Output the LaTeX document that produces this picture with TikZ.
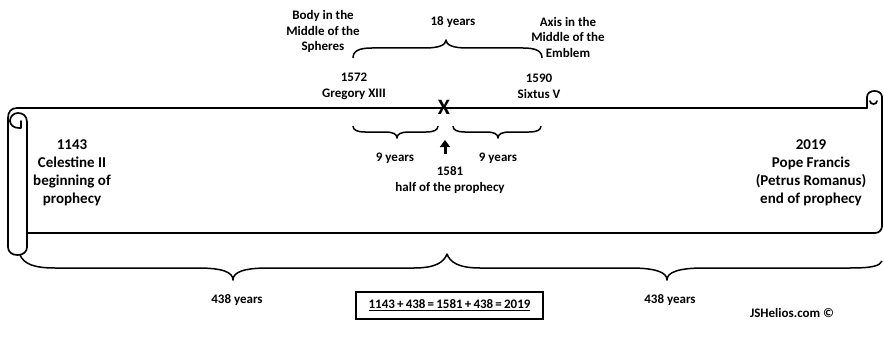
\documentclass[tikz,border=0pt]{standalone}
\usepackage{fontspec}
\setmainfont{Carlito}
\usetikzlibrary{arrows.meta}
\begin{document}
\begin{tikzpicture}[x=1pt,y=-1pt,
  outline/.style={line width=1.7pt, line join=round, line cap=round},
  bracel/.style={line width=1.5pt, line join=round},
  lab/.style={font=\bfseries\fontsize{13}{15.5}\selectfont, align=center, inner sep=0pt},
  big/.style={font=\bfseries\fontsize{15}{18}\selectfont, align=center, inner sep=0pt}]
\useasboundingbox (0,0) rectangle (884,337);
% ---- scroll ----
\draw[outline] (867,108) -- (17,108) .. controls (11,108) and (8,112) .. (8,118)
  -- (8,247) .. controls (8,252) and (12,255) .. (17.5,255) .. controls (23,255) and (27,252) .. (27,247) -- (27,122);
\draw[outline] (27,122) .. controls (27,116) and (23,113) .. (18,113) .. controls (13,113) and (10,117) .. (10,121)
  .. controls (10,125) and (14,128) .. (19,128) -- (21,128) -- (21,121);
\draw[outline] (27,233) -- (875,233) .. controls (879,233) and (882,230) .. (882,226) -- (882,97);
\draw[outline] (867,108) -- (867,97) .. controls (867,89) and (882,89) .. (882,97);
\draw[outline] (870,101) .. controls (870,105) and (877,105) .. (877,101);
% ---- top brace (tip up) ----
\draw[bracel] (353,58) .. controls (353,51) and (359,48) .. (372,48) -- (425,48)
  .. controls (439,48) and (446,45) .. (446,40) .. controls (446,45) and (453,48) .. (467,48)
  -- (523,48) .. controls (536,48) and (542,51) .. (542,58);
% ---- small braces (tip down) ----
\draw[bracel] (353,126) .. controls (353,130) and (357,132) .. (365,132) -- (385,132)
  .. controls (393,132) and (397,134) .. (397,138) .. controls (397,134) and (401,132) .. (409,132)
  -- (426,132) .. controls (434,132) and (438,130) .. (438,126);
\draw[bracel] (453,126) .. controls (453,130) and (457,132) .. (465,132) -- (486,132)
  .. controls (494,132) and (498,134) .. (498,138) .. controls (498,134) and (502,132) .. (510,132)
  -- (529,132) .. controls (537,132) and (541,130) .. (541,126);
% ---- bottom double brace ----
\draw[bracel] (20,255) .. controls (24,264) and (34,268) .. (55,268) -- (198,268)
  .. controls (222,268) and (233,272) .. (233,280) .. controls (233,272) and (244,268) .. (268,268)
  -- (414,268) .. controls (436,268) and (444,262) .. (447,254)
  .. controls (450,262) and (458,268) .. (480,268) -- (630,268)
  .. controls (655,268) and (667,272) .. (667,280) .. controls (667,272) and (679,268) .. (704,268)
  -- (850,268) .. controls (872,268) and (880,266) .. (882,261);
% ---- texts ----
\node[lab] (body) at (323,31.5) {Body in the\\Middle of the\\Spheres};
\node[lab] (eighteen) at (453,22) {18 years};
\node[lab] (axis) at (568,37) {Axis in the\\Middle of the\\Emblem};
\node[lab] (greg) at (354,86.5) {1572\\Gregory XIII};
\node[lab] (sixtus) at (539,86.5) {1590\\Sixtus V};
\node[font=\bfseries\fontsize{22}{22}\selectfont, inner sep=0pt] (xmark) at (444,107) {X};
\node[lab] (nineL) at (395,158) {9 years};
\node[lab] (nineR) at (498,158) {9 years};
\node[lab] (half) at (450,180) {1581\\half of the prophecy};
\coordinate (arrS) at (445,154);
\coordinate (arrE) at (445,140);
\draw[line width=3pt, -{Triangle[width=10pt,length=7pt]}] (arrS) -- (arrE);
\node[big] (start) at (72,173) {1143\\Celestine II\\beginning of\\prophecy};
\node[big] (end) at (811,173) {2019\\Pope Francis\\(Petrus Romanus)\\end of prophecy};
\node[lab] (yrsL) at (237,300) {438 years};
\node[lab] (yrsR) at (670,300) {438 years};
\node[lab, draw, line width=1.5pt, minimum width=187pt, minimum height=27pt] (sum) at (449.5,305.5)
  {\underline{1143\,+\,438\,=\,1581\,+\,438\,=\,2019}};
\node[lab] (copy) at (792,313) {JSHelios.com ©};
\end{tikzpicture}
\end{document}
